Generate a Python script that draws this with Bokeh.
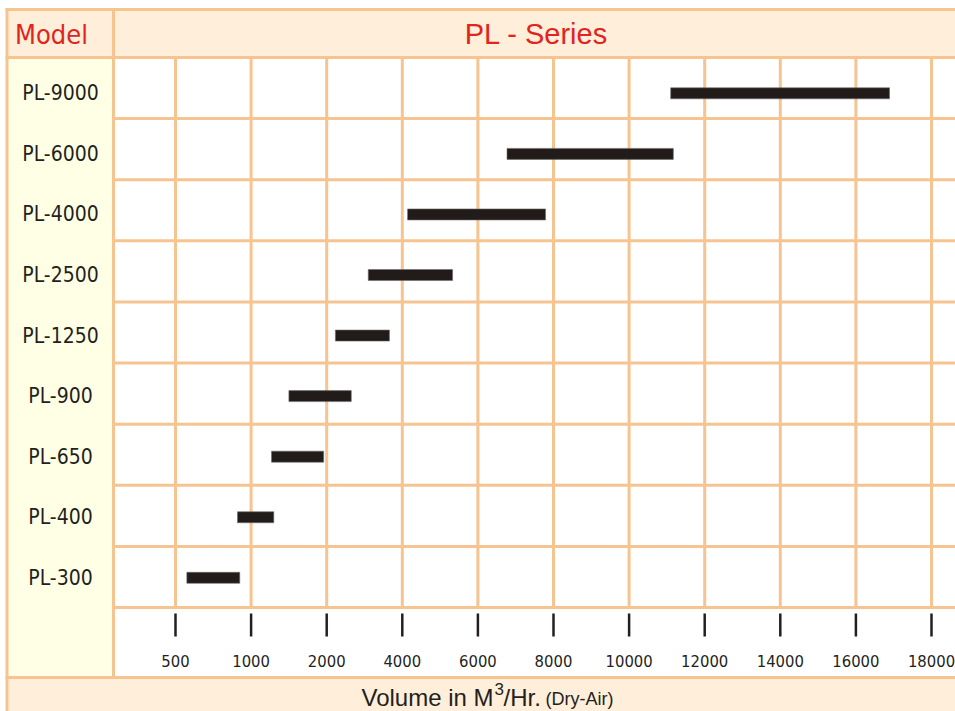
import numpy as np
from bokeh.plotting import figure
from bokeh.models import Range1d, ColumnDataSource
from bokeh.core.properties import value
from bokeh.embed import file_html
from bokeh.resources import INLINE

# ---------------- data ----------------
models = ["PL-300", "PL-400", "PL-650", "PL-900", "PL-1250", "PL-2500", "PL-4000", "PL-6000", "PL-9000"]
vol_min = [575, 910, 1270, 1500, 2230, 3100, 4140, 6770, 11100]
vol_max = [925, 1300, 1960, 2650, 3660, 5330, 7790, 11170, 16890]
tick_values = [500, 1000, 2000, 4000, 6000, 8000, 10000, 12000, 14000, 16000, 18000]
tick_labels = [str(v) for v in tick_values]

# ---------------- layout helpers (page pixel -> data) ----------------
W, H = 955, 711
X0, SX = 175.0, 75.6      # page x of first tick, px per tick step
Y1, SY = 577.3, 60.56     # page y of first model row, px per row


def dx(px):
    return (px - X0) / SX


def dy(py):
    return 1 + (Y1 - py) / SY


GRID = "#F6C490"
PEACH = "#FEEEDA"
YELLOW = "#FFFFE6"
INK = "#231F20"
RED = "#E0251F"
NARROW = value("DejaVu Sans Condensed")
SANS = value("Liberation Sans")

p = figure(width=W, height=H, x_range=Range1d(dx(0), dx(W)), y_range=Range1d(dy(H), dy(0)),
           x_axis_type=None, y_axis_type=None, toolbar_location=None, output_backend="svg",
           min_border=0, min_border_left=0, min_border_right=0, min_border_top=0, min_border_bottom=0,
           outline_line_color=None, background_fill_color="white", border_fill_color="white")
p.xgrid.visible = False
p.ygrid.visible = False

# background panels
p.quad(left=[dx(6), dx(6), dx(6)], right=[dx(960), dx(113), dx(960)],
       top=[dy(9), dy(57), dy(677)], bottom=[dy(57), dy(677), dy(720)],
       fill_color=[PEACH, YELLOW, PEACH], line_color=None)

# row separators and frame lines
row_lines = [607 - k * 61.11 for k in range(9)]
p.segment(x0=[dx(113)] * len(row_lines), x1=[dx(960)] * len(row_lines), y0=[dy(v) for v in row_lines],
          y1=[dy(v) for v in row_lines], line_color=GRID, line_width=3)
p.segment(x0=[dx(5), dx(5), dx(5), dx(6.5), dx(113)], x1=[dx(960), dx(960), dx(960), dx(6.5), dx(113)],
          y0=[dy(9), dy(57), dy(677), dy(8), dy(9)], y1=[dy(9), dy(57), dy(677), dy(720), dy(677)],
          line_color=GRID, line_width=3)

# vertical grid at ticks
idx = np.arange(len(tick_values))
p.segment(x0=idx, x1=idx, y0=[dy(607)] * len(idx), y1=[dy(57)] * len(idx), line_color=GRID, line_width=3)
# tick marks
p.segment(x0=idx, x1=idx, y0=[dy(613)] * len(idx), y1=[dy(636)] * len(idx), line_color=INK, line_width=2.5)
# tick labels
p.text(x=idx, y=[dy(660.5)] * len(idx), text=tick_labels, text_font=NARROW, text_font_size="16.5px",
       text_color=INK, text_align="center", text_baseline="middle")

# bars
ypos = np.arange(1, len(models) + 1)
left = np.interp(vol_min, tick_values, idx)
right = np.interp(vol_max, tick_values, idx)
bh = 11.0 / SY
src = ColumnDataSource(dict(model=models, y=ypos, left=left, right=right))
p.hbar(y="y", left="left", right="right", height=bh, source=src, fill_color="#211C1A",
       line_color="#6e6a69", line_width=0.6)

# model labels
p.text(x=[dx(60)] * len(models), y=ypos, text=models, text_font=NARROW, text_font_size="21px",
       text_color=INK, text_align="center", text_baseline="middle")

# headers
p.text(x=[dx(51)], y=[dy(34)], text=["Model"], text_font=NARROW, text_font_size="27px",
       text_color=RED, text_align="center", text_baseline="middle")
p.text(x=[dx(536)], y=[dy(33)], text=["PL - Series"], text_font=SANS, text_font_size="29px",
       text_color=RED, text_align="center", text_baseline="middle")

# footer title
p.text(x=[dx(493)], y=[dy(696.5)], text=["Volume in M"], text_font=SANS, text_font_size="24px",
       text_color=INK, text_align="right", text_baseline="middle")
p.text(x=[dx(494)], y=[dy(688.5)], text=["3"], text_font=SANS, text_font_size="17px",
       text_color=INK, text_align="left", text_baseline="middle")
p.text(x=[dx(503)], y=[dy(696.5)], text=["/Hr."], text_font=SANS, text_font_size="24px",
       text_color=INK, text_align="left", text_baseline="middle")
p.text(x=[dx(545)], y=[dy(698)], text=["(Dry-Air)"], text_font=SANS, text_font_size="18px",
       text_color=INK, text_align="left", text_baseline="middle")

open("out.html", "w").write(file_html(p, INLINE))
